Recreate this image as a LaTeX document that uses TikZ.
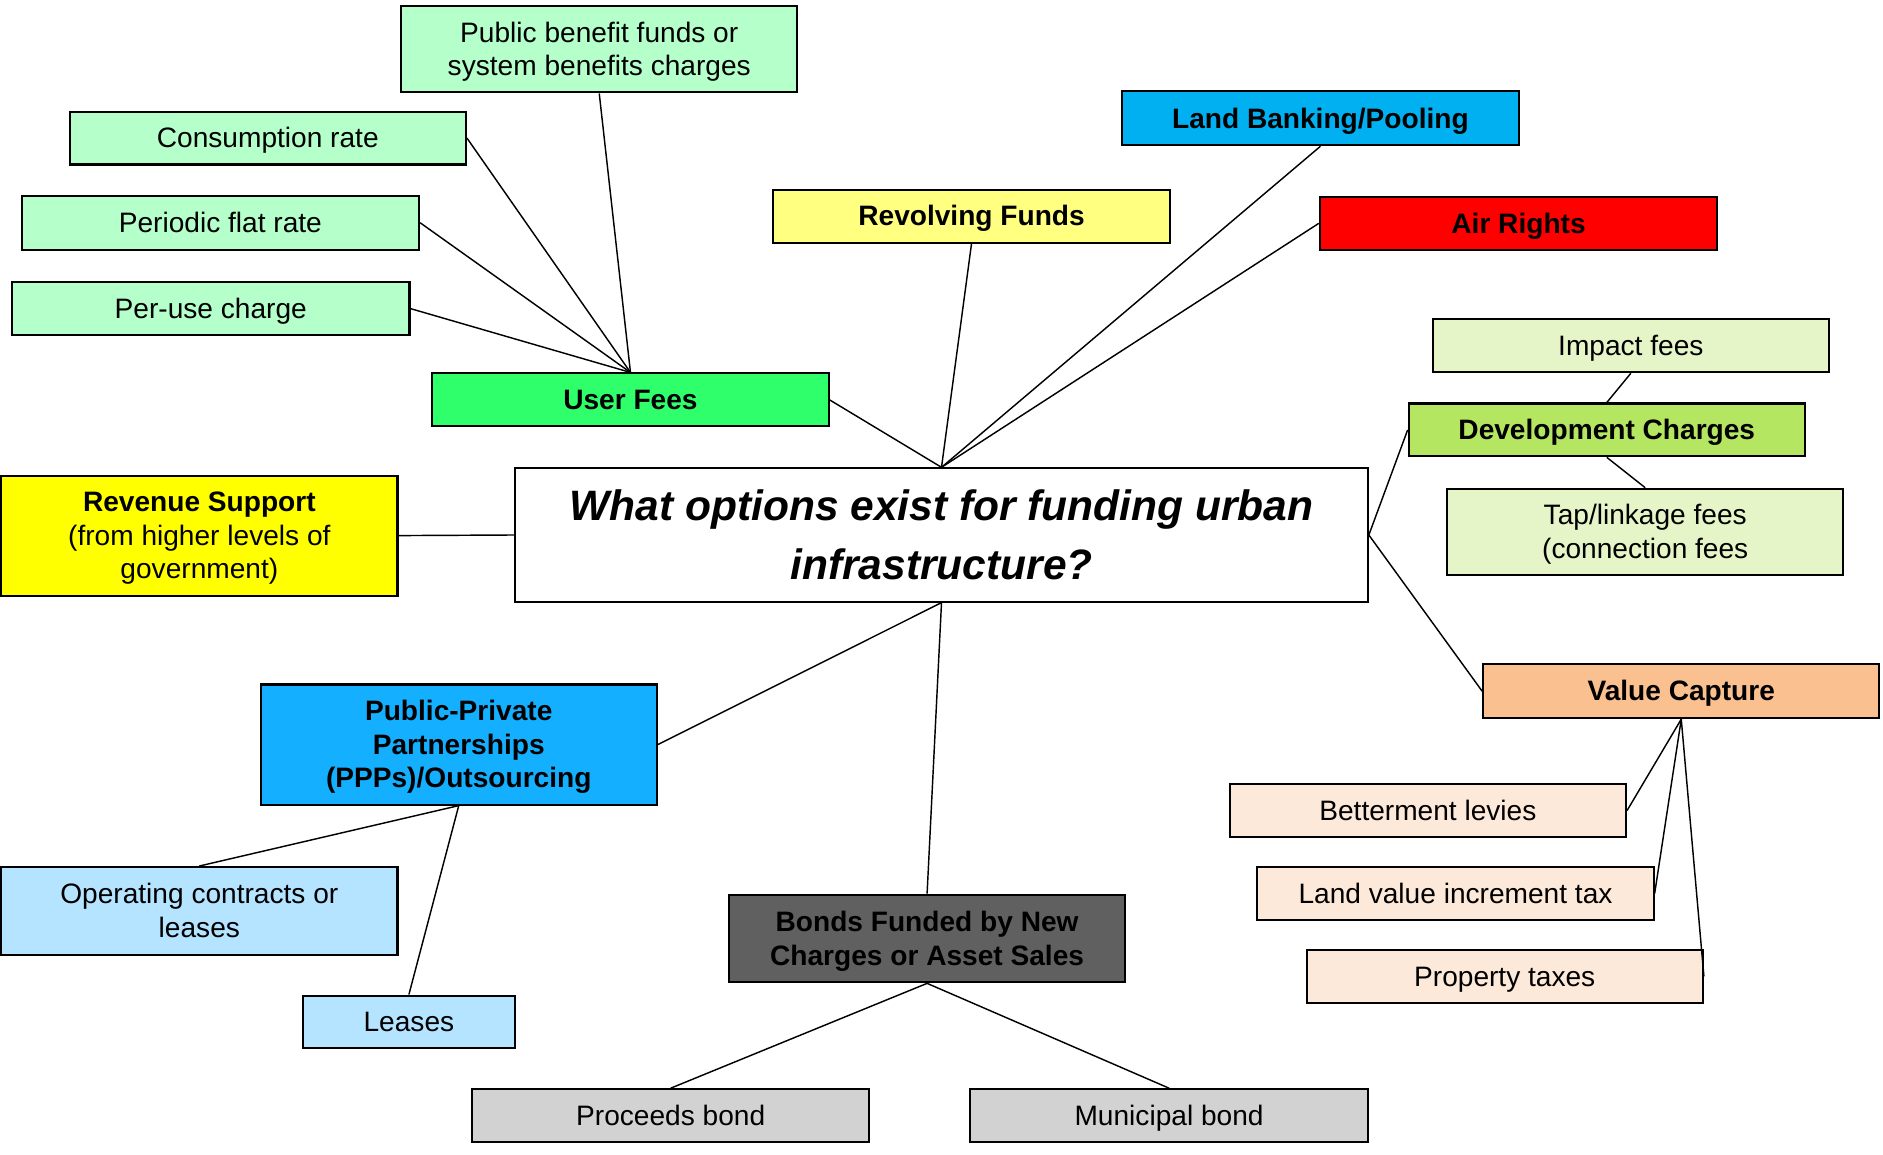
\documentclass[tikz,border=0pt]{standalone}
\usepackage{fontspec}
\setmainfont{Liberation Sans}
\definecolor{cLgreen}{RGB}{180,255,202}
\definecolor{cUgreen}{RGB}{48,255,108}
\definecolor{cLyellow}{RGB}{255,255,128}
\definecolor{cSky}{RGB}{0,176,240}
\definecolor{cRed}{RGB}{255,0,0}
\definecolor{cPaleg}{RGB}{230,245,200}
\definecolor{cDevg}{RGB}{181,230,98}
\definecolor{cYellow}{RGB}{255,255,0}
\definecolor{cOrange}{RGB}{250,192,143}
\definecolor{cPeach}{RGB}{253,233,217}
\definecolor{cPpp}{RGB}{20,175,255}
\definecolor{cLblue}{RGB}{180,228,255}
\definecolor{cDgray}{RGB}{96,96,96}
\definecolor{cLgray}{RGB}{210,210,210}
% struts mimicking the line box (ascent/descent) of the original
\newcommand\mytopst{\rule{0pt}{0.905em}}
\newcommand\mybotst{\rule[-0.212em]{0pt}{0.212em}}
\tikzset{
  box/.style={draw=black, line width=0.85pt, rectangle, align=center, inner sep=0pt,
    font=\fontsize{11.7}{14}\selectfont, minimum width=165pt, minimum height=22pt},
  boldbox/.style={box, font=\fontsize{11.7}{14}\selectfont\bfseries},
  conn/.style={draw=black, line width=0.6pt},
}
\begin{document}
\begin{tikzpicture}[x=0.5pt, y=-0.5pt]
\useasboundingbox (0,0) rectangle (1568,961);
% left cluster
\node[box, fill=cLgreen, minimum height=36pt] (pbf) at (499,41) {\mytopst Public benefit funds or\\system benefits charges\mybotst};
\node[box, fill=cLgreen] (cons) at (223,115) {\mytopst Consumption rate\mybotst};
\node[box, fill=cLgreen, minimum width=165.5pt, minimum height=22.5pt] (flat) at (183.5,185.5) {\mytopst Periodic flat rate\mybotst};
\node[box, fill=cLgreen, minimum width=165.5pt] (peruse) at (175.5,257) {\mytopst Per-use charge\mybotst};
\node[boldbox, fill=cUgreen] (user) at (525,333) {\mytopst User Fees\mybotst};
% top
\node[boldbox, fill=cLyellow] (revolve) at (809,180) {\mytopst Revolving Funds\mybotst};
\node[boldbox, fill=cSky, minimum width=165.5pt, minimum height=22.5pt] (landbank) at (1099.5,98.5) {\mytopst Land Banking/Pooling\mybotst};
\node[boldbox, fill=cRed, minimum width=165.5pt] (air) at (1264.5,186) {\mytopst Air Rights\mybotst};
% right
\node[box, fill=cPaleg] (impact) at (1358,288) {\mytopst Impact fees\mybotst};
\node[boldbox, fill=cDevg] (dev) at (1338,358) {\mytopst Development Charges\mybotst};
\node[box, fill=cPaleg, minimum height=36pt] (tap) at (1370,443) {\mytopst Tap/linkage fees\\(connection fees\mybotst};
\node[boldbox, fill=cOrange, minimum height=22.5pt] (value) at (1400,575.5) {\mytopst Value Capture\mybotst};
\node[box, fill=cPeach] (better) at (1189,675) {\mytopst Betterment levies\mybotst};
\node[box, fill=cPeach] (lvit) at (1212,744) {\mytopst Land value increment tax\mybotst};
\node[box, fill=cPeach] (prop) at (1253,813) {\mytopst Property taxes\mybotst};
% center
\node[draw=black, line width=0.85pt, fill=white, align=center, inner sep=0pt,
  minimum width=355pt, minimum height=55.5pt,
  font=\fontsize{17.7}{24.5}\selectfont\bfseries\itshape] (center) at (784,445.5)
  {\mytopst What options exist for funding urban\\infrastructure?\mybotst};
% left middle
\node[box, fill=cYellow, minimum height=50pt] (revenue) at (166,446) {\mytopst\textbf{Revenue Support}\\(from higher levels of\\government)\mybotst};
\node[boldbox, fill=cPpp, minimum height=50pt] (ppp) at (382,620) {\mytopst Public-Private\\Partnerships\\(PPPs)/Outsourcing\mybotst};
\node[box, fill=cLblue, minimum height=36.5pt] (opc) at (166,758.5) {\mytopst Operating contracts or\\leases\mybotst};
\node[box, fill=cLblue, minimum width=88.5pt] (leases) at (340.5,851) {\mytopst Leases\mybotst};
% bottom
\node[boldbox, fill=cDgray, minimum height=36.5pt] (bonds) at (772,781.5) {\mytopst Bonds Funded by New\\Charges or Asset Sales\mybotst};
\node[box, fill=cLgray, minimum width=165.5pt] (proceeds) at (558.5,929) {\mytopst Proceeds bond\mybotst};
\node[box, fill=cLgray, minimum width=165.5pt] (municipal) at (973.5,929) {\mytopst Municipal bond\mybotst};
% connectors
\draw[conn] (pbf.south) -- (user.north);
\draw[conn] (cons.east) -- (user.north);
\draw[conn] (flat.east) -- (user.north);
\draw[conn] (peruse.east) -- (user.north);
\draw[conn] (user.east) -- (center.north);
\draw[conn] (revolve.south) -- (center.north);
\draw[conn] (landbank.south) -- (center.north);
\draw[conn] (air.west) -- (center.north);
\draw[conn] (revenue.east) -- (center.west);
\draw[conn] (center.east) -- (dev.west);
\draw[conn] (center.east) -- (value.west);
\draw[conn] (impact.south) -- (dev.north);
\draw[conn] (dev.south) -- (tap.north);
\draw[conn] (value.south) -- (better.east);
\draw[conn] (value.south) -- (lvit.east);
\draw[conn] (value.south) -- (prop.east);
\draw[conn] (center.south) -- (ppp.east);
\draw[conn] (center.south) -- (bonds.north);
\draw[conn] (ppp.south) -- (opc.north);
\draw[conn] (ppp.south) -- (leases.north);
\draw[conn] (bonds.south) -- (proceeds.north);
\draw[conn] (bonds.south) -- (municipal.north);
\end{tikzpicture}
\end{document}
